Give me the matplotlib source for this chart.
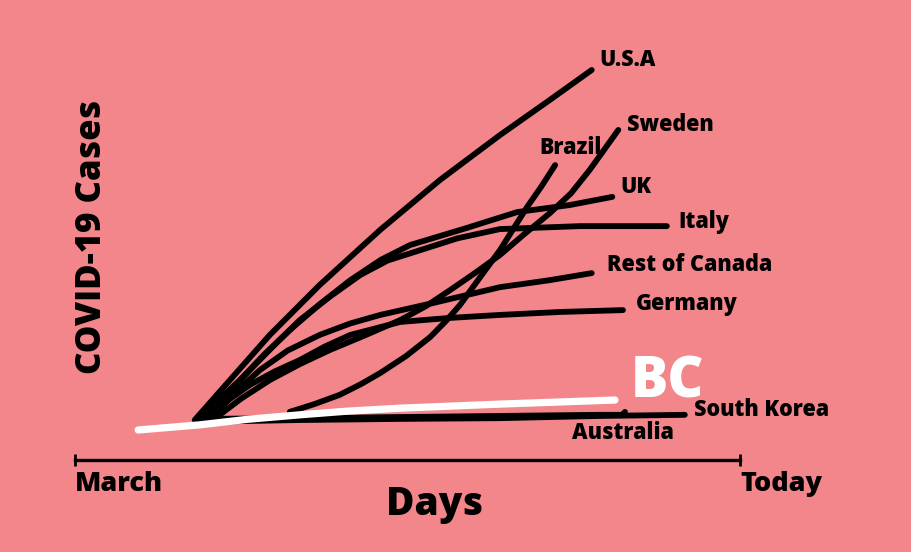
import matplotlib
matplotlib.use("Agg")
import matplotlib.pyplot as plt

# days since March (0 = March, 100 = today) and relative case counts
usa_days = [18.0, 23.3, 29.3, 36.8, 45.9, 54.9, 63.9, 71.4, 77.7]
usa_cases = [2.7, 13.5, 25.7, 39.2, 54.1, 67.6, 79.7, 89.2, 97.3]

uk_days = [18.8, 21.5, 24.8, 28.5, 32.3, 36.8, 41.4, 46.0, 50.4, 58.9, 66.5, 74.4, 80.8]
uk_cases = [2.7, 8.0, 13.5, 20.5, 27.0, 34.0, 40.5, 46.0, 50.0, 54.6, 58.9, 60.8, 63.0]

italy_days = [19.5, 22.8, 26.3, 30.0, 33.8, 38.3, 42.9, 47.0, 51.9, 57.5, 63.9, 75.9, 89.0]
italy_cases = [2.7, 9.5, 16.2, 23.0, 29.7, 36.0, 41.9, 45.8, 48.6, 51.8, 54.3, 55.1, 55.1]

canada_days = [20.3, 24.0, 27.8, 32.0, 36.8, 41.4, 45.9, 53.8, 63.9, 71.4, 77.7]
canada_cases = [2.7, 10.0, 16.2, 21.5, 25.7, 28.8, 31.1, 34.3, 38.6, 40.5, 42.4]

germany_days = [20.3, 23.0, 26.3, 30.0, 33.8, 37.5, 41.4, 48.9, 56.4, 63.9, 72.9, 82.4]
germany_cases = [3.2, 8.0, 12.2, 15.8, 18.9, 22.5, 25.7, 29.2, 30.3, 31.1, 31.9, 32.4]

sweden_days = [21.1, 25.0, 29.3, 33.8, 38.3, 43.5, 48.9, 52.8, 56.4, 60.2, 63.9, 67.6, 71.4, 74.6, 77.4, 81.7]
sweden_cases = [3.2, 8.5, 13.5, 17.8, 21.6, 25.5, 29.7, 33.5, 37.8, 42.5, 47.3, 53.0, 58.6, 64.0, 70.3, 81.1]

brazil_days = [32.3, 36.0, 39.8, 43.0, 45.9, 49.8, 53.4, 55.8, 57.9, 60.8, 63.9, 66.0, 68.0, 70.2, 72.2]
brazil_cases = [4.9, 7.0, 9.5, 12.4, 15.4, 20.0, 25.1, 29.5, 33.8, 41.0, 48.6, 54.6, 60.3, 66.0, 71.6]

australia_days = [18.8, 33.8, 48.9, 63.9, 78.9, 82.3, 82.7]
australia_cases = [3.0, 3.2, 3.5, 3.8, 4.1, 4.1, 4.9]

korea_days = [18.8, 33.8, 48.9, 63.9, 78.9, 91.7]
korea_cases = [2.2, 2.7, 3.0, 3.2, 3.8, 4.1]

bc_days = [9.5, 18.8, 26.0, 33.8, 41.0, 48.9, 63.9, 81.2]
bc_cases = [0.0, 1.4, 2.9, 4.1, 5.1, 5.9, 7.0, 8.1]

black_series = [
    (usa_days, usa_cases),
    (uk_days, uk_cases),
    (italy_days, italy_cases),
    (canada_days, canada_cases),
    (germany_days, germany_cases),
    (sweden_days, sweden_cases),
    (brazil_days, brazil_cases),
    (australia_days, australia_cases),
    (korea_days, korea_cases),
]

# label text and where it sits (day, cases)
labels = ["U.S.A", "Sweden", "Brazil", "UK", "Italy", "Rest of Canada",
          "Germany", "South Korea", "Australia"]
label_pos = [(78.9, 100.0), (83.0, 82.4), (69.9, 76.2), (82.0, 65.7), (90.7, 56.2),
             (80.0, 44.6), (84.4, 34.1), (93.1, 5.4), (74.7, -0.8)]

bg = '#F2868A'
plt.rcParams['font.family'] = ['Open Sans', 'DejaVu Sans']
W = 800

fig = plt.figure(figsize=(9.12, 5.52), dpi=100, facecolor=bg)
ax = fig.add_axes([75 / 912, 122 / 552, 665 / 912, 370 / 552])
ax.set_facecolor(bg)
ax.set_xlim(0, 100)
ax.set_ylim(0, 100)

for days, cases in black_series:
    ax.plot(days, cases, color='black', lw=4.2, solid_capstyle='round',
            solid_joinstyle='round', clip_on=False)
ax.plot(bc_days, bc_cases, color='white', lw=5.2, solid_capstyle='round',
        solid_joinstyle='round', clip_on=False, zorder=3)

for name, (x, y) in zip(labels, label_pos):
    ax.text(x, y, name, fontsize=15.5, fontweight=W, color='black',
            ha='left', va='center')
ax.text(83.6, 12.8, "BC", fontsize=40, fontweight=W, color='white',
        ha='left', va='center')

# axes
for s in ['top', 'right', 'left']:
    ax.spines[s].set_visible(False)
ax.spines['bottom'].set_position(('data', -8))
ax.spines['bottom'].set_linewidth(2.4)
ax.set_yticks([])
ax.set_xticks([0, 100])
ax.set_xticklabels(["March", "Today"], fontsize=19.5, fontweight=W, ha='left')
ax.tick_params(axis='x', direction='inout', length=9, width=2, pad=4)
for lbl in ax.get_xticklabels():
    lbl.set_x(lbl.get_position()[0])
ax.set_xlabel("Days", fontsize=28, fontweight=W)
ax.xaxis.set_label_coords(0.541, -0.148)
ax.text(2.6, 52.2, "COVID-19 Cases", fontsize=25, fontweight=W,
        rotation=90, ha='center', va='center', transform=ax.transData)

fig.savefig("out.png", dpi=100, facecolor=bg)
